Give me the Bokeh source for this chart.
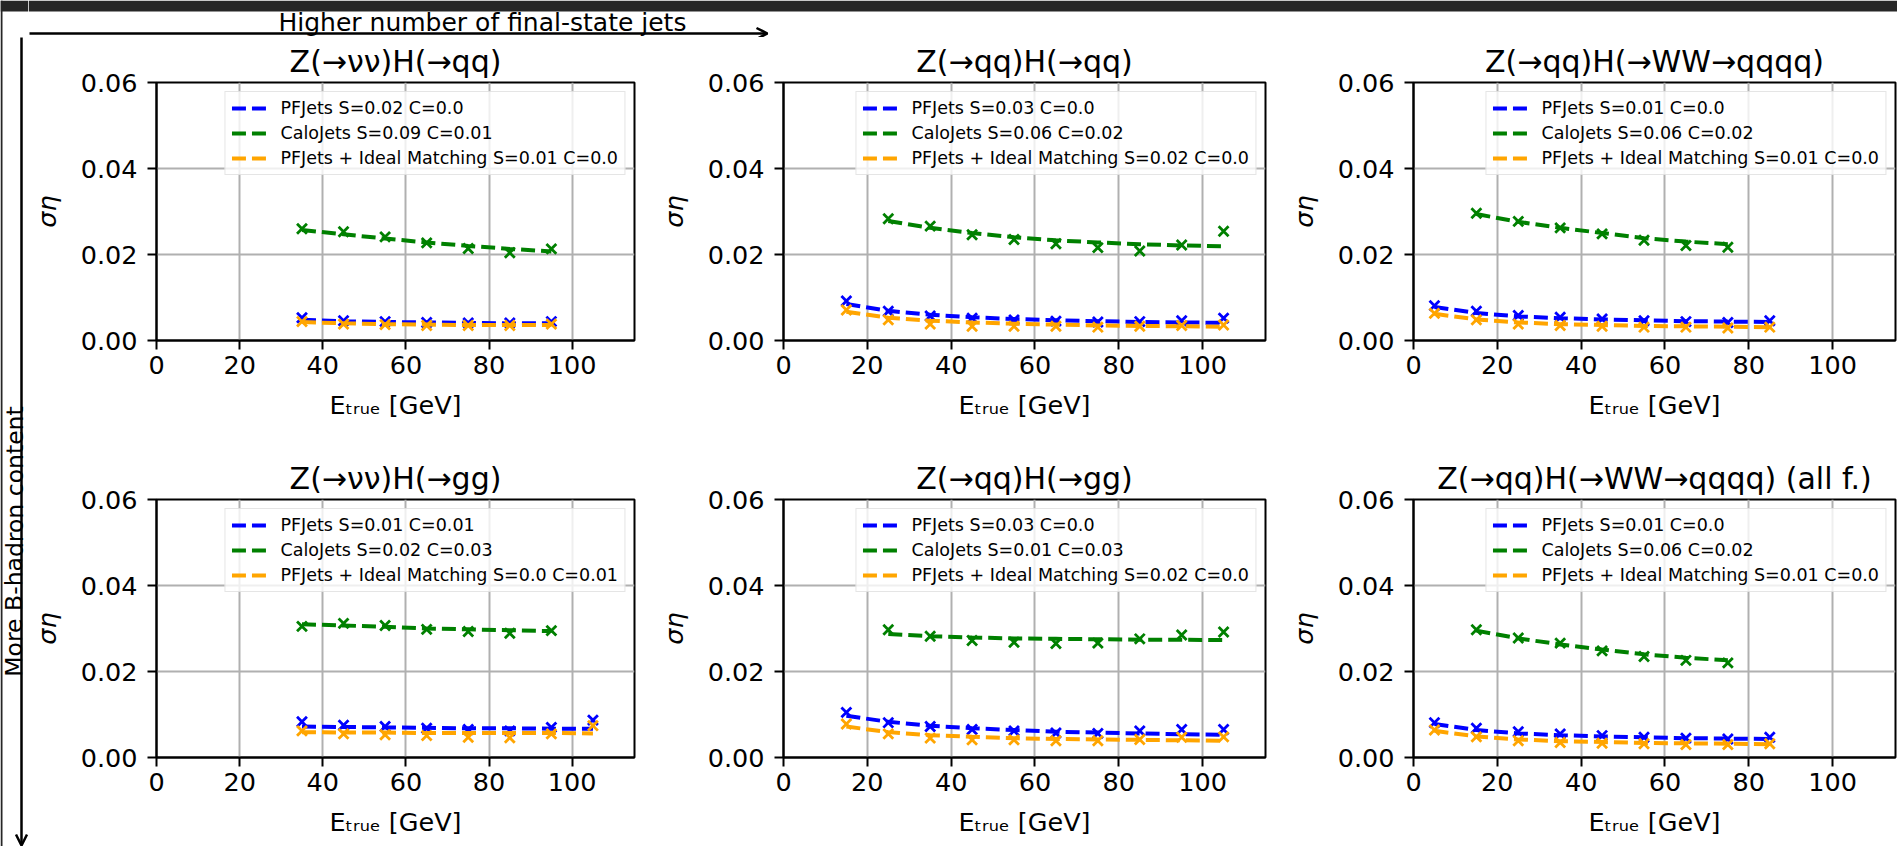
from bokeh.plotting import figure
from bokeh.layouts import row, column
from bokeh.models import (Range1d, FixedTicker, PrintfTickFormatter, Legend, LegendItem,
                          Arrow, OpenHead, Label)
from bokeh.embed import file_html
from bokeh.resources import INLINE

FONT = "DejaVu Sans"

# ---------------- data ----------------
top_note = "Higher number of final-state jets"
left_note = "More B-hadron content"
x_ticks = [0, 20, 40, 60, 80, 100]
y_ticks = [0.0, 0.02, 0.04, 0.06]
x_label = "Eₜᵣᵤₑ [GeV]"
y_label = "ση"

# Panel 1
p1_title = "Z(→νν)H(→qq)"
p1_labels = ["PFJets S=0.02 C=0.0", "CaloJets S=0.09 C=0.01", "PFJets + Ideal Matching S=0.01 C=0.0"]
p1_e_pf = [35, 45, 55, 65, 75, 85, 95]
p1_pf = [0.0053, 0.0046, 0.0044, 0.0042, 0.0041, 0.0041, 0.0044]
p1_pf_fit = [0.0048, 0.0045, 0.0043, 0.0042, 0.0041, 0.0040, 0.0040]
p1_e_calo = [35, 45, 55, 65, 75, 85, 95]
p1_calo = [0.0260, 0.0253, 0.0241, 0.0227, 0.0214, 0.0204, 0.0213]
p1_calo_fit = [0.0257, 0.0247, 0.0237, 0.0228, 0.0220, 0.0213, 0.0207]
p1_e_ideal = [35, 45, 55, 65, 75, 85, 95]
p1_ideal = [0.0044, 0.0038, 0.0037, 0.0035, 0.0035, 0.0035, 0.0038]
p1_ideal_fit = [0.0043, 0.0040, 0.0038, 0.0037, 0.0036, 0.0036, 0.0036]

# Panel 2
p2_title = "Z(→qq)H(→qq)"
p2_labels = ["PFJets S=0.03 C=0.0", "CaloJets S=0.06 C=0.02", "PFJets + Ideal Matching S=0.02 C=0.0"]
p2_e_pf = [15, 25, 35, 45, 55, 65, 75, 85, 95, 105]
p2_pf = [0.0092, 0.0068, 0.0057, 0.0052, 0.0048, 0.0045, 0.0043, 0.0044, 0.0046, 0.0052]
p2_pf_fit = [0.0085, 0.0069, 0.0060, 0.0054, 0.0050, 0.0047, 0.0045, 0.0043, 0.0042, 0.0041]
p2_e_calo = [25, 35, 45, 55, 65, 75, 85, 95, 105]
p2_calo = [0.0283, 0.0266, 0.0246, 0.0235, 0.0225, 0.0216, 0.0208, 0.0222, 0.0254]
p2_calo_fit = [0.0278, 0.0262, 0.0250, 0.0240, 0.0233, 0.0228, 0.0224, 0.0221, 0.0219]
p2_e_ideal = [15, 25, 35, 45, 55, 65, 75, 85, 95, 105]
p2_ideal = [0.0071, 0.0048, 0.0038, 0.0033, 0.0033, 0.0033, 0.0031, 0.0033, 0.0035, 0.0036]
p2_ideal_fit = [0.0067, 0.0053, 0.0046, 0.0042, 0.0039, 0.0037, 0.0035, 0.0034, 0.0033, 0.0032]

# Panel 3
p3_title = "Z(→qq)H(→WW→qqqq)"
p3_labels = ["PFJets S=0.01 C=0.0", "CaloJets S=0.06 C=0.02", "PFJets + Ideal Matching S=0.01 C=0.0"]
p3_e_pf = [5, 15, 25, 35, 45, 55, 65, 75, 85]
p3_pf = [0.0081, 0.0068, 0.0058, 0.0054, 0.0050, 0.0046, 0.0044, 0.0042, 0.0046]
p3_pf_fit = [0.0078, 0.0064, 0.0056, 0.0052, 0.0049, 0.0047, 0.0045, 0.0044, 0.0043]
p3_e_calo = [15, 25, 35, 45, 55, 65, 75]
p3_calo = [0.0296, 0.0277, 0.0262, 0.0248, 0.0233, 0.0221, 0.0217]
p3_calo_fit = [0.0294, 0.0276, 0.0262, 0.0250, 0.0238, 0.0230, 0.0224]
p3_e_ideal = [5, 15, 25, 35, 45, 55, 65, 75, 85]
p3_ideal = [0.0063, 0.0048, 0.0038, 0.0035, 0.0033, 0.0031, 0.0031, 0.0029, 0.0031]
p3_ideal_fit = [0.0062, 0.0049, 0.0042, 0.0038, 0.0036, 0.0034, 0.0033, 0.0032, 0.0031]

# Panel 4
p4_title = "Z(→νν)H(→gg)"
p4_labels = ["PFJets S=0.01 C=0.01", "CaloJets S=0.02 C=0.03", "PFJets + Ideal Matching S=0.0 C=0.01"]
p4_e_pf = [35, 45, 55, 65, 75, 85, 95, 105]
p4_pf = [0.0083, 0.0075, 0.0072, 0.0068, 0.0065, 0.0062, 0.0070, 0.0087]
p4_pf_fit = [0.0072, 0.0071, 0.0070, 0.0069, 0.0068, 0.0068, 0.0067, 0.0067]
p4_e_calo = [35, 45, 55, 65, 75, 85, 95]
p4_calo = [0.0305, 0.0312, 0.0307, 0.0298, 0.0293, 0.0289, 0.0295]
p4_calo_fit = [0.0310, 0.0307, 0.0304, 0.0300, 0.0298, 0.0296, 0.0294]
p4_e_ideal = [35, 45, 55, 65, 75, 85, 95, 105]
p4_ideal = [0.0062, 0.0055, 0.0053, 0.0051, 0.0047, 0.0046, 0.0055, 0.0074]
p4_ideal_fit = [0.0059, 0.0058, 0.0058, 0.0057, 0.0057, 0.0057, 0.0057, 0.0056]

# Panel 5
p5_title = "Z(→qq)H(→gg)"
p5_labels = ["PFJets S=0.03 C=0.0", "CaloJets S=0.01 C=0.03", "PFJets + Ideal Matching S=0.02 C=0.0"]
p5_e_pf = [15, 25, 35, 45, 55, 65, 75, 85, 95, 105]
p5_pf = [0.0105, 0.0081, 0.0072, 0.0065, 0.0062, 0.0057, 0.0056, 0.0062, 0.0065, 0.0065]
p5_pf_fit = [0.0097, 0.0083, 0.0074, 0.0068, 0.0064, 0.0060, 0.0058, 0.0056, 0.0054, 0.0053]
p5_e_calo = [25, 35, 45, 55, 65, 75, 85, 95, 105]
p5_calo = [0.0297, 0.0282, 0.0272, 0.0268, 0.0265, 0.0266, 0.0276, 0.0285, 0.0292]
p5_calo_fit = [0.0287, 0.0282, 0.0279, 0.0277, 0.0276, 0.0275, 0.0274, 0.0274, 0.0273]
p5_e_ideal = [15, 25, 35, 45, 55, 65, 75, 85, 95, 105]
p5_ideal = [0.0078, 0.0055, 0.0045, 0.0041, 0.0041, 0.0039, 0.0039, 0.0042, 0.0047, 0.0048]
p5_ideal_fit = [0.0072, 0.0059, 0.0052, 0.0048, 0.0045, 0.0043, 0.0042, 0.0041, 0.0040, 0.0039]

# Panel 6
p6_title = "Z(→qq)H(→WW→qqqq) (all f.)"
p6_labels = ["PFJets S=0.01 C=0.0", "CaloJets S=0.06 C=0.02", "PFJets + Ideal Matching S=0.01 C=0.0"]
p6_e_pf = [5, 15, 25, 35, 45, 55, 65, 75, 85]
p6_pf = [0.0081, 0.0068, 0.0060, 0.0055, 0.0051, 0.0047, 0.0045, 0.0043, 0.0047]
p6_pf_fit = [0.0078, 0.0064, 0.0056, 0.0052, 0.0049, 0.0047, 0.0045, 0.0044, 0.0043]
p6_e_calo = [15, 25, 35, 45, 55, 65, 75]
p6_calo = [0.0297, 0.0278, 0.0266, 0.0248, 0.0235, 0.0226, 0.0220]
p6_calo_fit = [0.0295, 0.0277, 0.0263, 0.0251, 0.0240, 0.0232, 0.0226]
p6_e_ideal = [5, 15, 25, 35, 45, 55, 65, 75, 85]
p6_ideal = [0.0064, 0.0048, 0.0039, 0.0035, 0.0033, 0.0032, 0.0030, 0.0030, 0.0032]
p6_ideal_fit = [0.0062, 0.0049, 0.0042, 0.0038, 0.0036, 0.0034, 0.0033, 0.0032, 0.0031]

COLORS = ["#0000ff", "#008000", "#ffa500"]

panels = [
    (p1_title, p1_labels, [(p1_e_pf, p1_pf, p1_pf_fit), (p1_e_calo, p1_calo, p1_calo_fit), (p1_e_ideal, p1_ideal, p1_ideal_fit)]),
    (p2_title, p2_labels, [(p2_e_pf, p2_pf, p2_pf_fit), (p2_e_calo, p2_calo, p2_calo_fit), (p2_e_ideal, p2_ideal, p2_ideal_fit)]),
    (p3_title, p3_labels, [(p3_e_pf, p3_pf, p3_pf_fit), (p3_e_calo, p3_calo, p3_calo_fit), (p3_e_ideal, p3_ideal, p3_ideal_fit)]),
    (p4_title, p4_labels, [(p4_e_pf, p4_pf, p4_pf_fit), (p4_e_calo, p4_calo, p4_calo_fit), (p4_e_ideal, p4_ideal, p4_ideal_fit)]),
    (p5_title, p5_labels, [(p5_e_pf, p5_pf, p5_pf_fit), (p5_e_calo, p5_calo, p5_calo_fit), (p5_e_ideal, p5_ideal, p5_ideal_fit)]),
    (p6_title, p6_labels, [(p6_e_pf, p6_pf, p6_pf_fit), (p6_e_calo, p6_calo, p6_calo_fit), (p6_e_ideal, p6_ideal, p6_ideal_fit)]),
]

# ---------------- layout geometry (page pixels) ----------------
PAGE_W, PAGE_H = 1897, 846
LEFT_W = 28
TOP_H = 37
FRAME_W = 482
FRAME_H = 260
col_borders = [(124, 6), (143, 5), (143, 2)]   # (left, right)
row_borders = [(43, 114), (43, 89)]            # (top, bottom)
DARK = "#262626"


def make_panel(idx):
    title, labels, series = panels[idx]
    r, c = divmod(idx, 3)
    bl, br = col_borders[c]
    bt, bb = row_borders[r]
    p = figure(width=bl + FRAME_W + br, height=bt + FRAME_H + bb,
               x_range=Range1d(0, 115), y_range=Range1d(0, 0.06),
               output_backend="svg", toolbar_location=None,
               min_border_left=bl, min_border_right=br,
               min_border_top=bt, min_border_bottom=bb,
               title=title)
    p.title.text_font = FONT
    p.title.text_font_size = "30px"
    p.title.text_font_style = "normal"
    p.title.text_color = "black"
    p.title.align = "center"
    p.title.standoff = 8

    p.background_fill_color = "white"
    p.border_fill_color = "white"
    p.outline_line_color = "black"
    p.outline_line_width = 2
    p.outline_line_alpha = 1.0

    p.xaxis.ticker = FixedTicker(ticks=x_ticks)
    p.yaxis.ticker = FixedTicker(ticks=y_ticks)
    p.yaxis.formatter = PrintfTickFormatter(format="%.2f")
    for ax in (p.xaxis, p.yaxis):
        ax.axis_line_color = "black"
        ax.axis_line_width = 2
        ax.major_tick_line_color = "black"
        ax.major_tick_line_width = 2
        ax.major_tick_out = 9
        ax.major_tick_in = 0
        ax.minor_tick_out = 0
        ax.minor_tick_in = 0
        ax.major_label_text_font = FONT
        ax.major_label_text_font_size = "25.5px"
        ax.major_label_text_color = "black"
        ax.axis_label_text_font = FONT
        ax.axis_label_text_font_size = "25.5px"
        ax.axis_label_text_font_style = "normal"
        ax.axis_label_text_color = "black"
    p.xaxis.major_label_standoff = 6
    p.yaxis.major_label_standoff = 10
    p.xaxis.axis_label = x_label
    p.xaxis.axis_label_standoff = 13
    p.yaxis.axis_label = y_label
    p.yaxis.axis_label_standoff = 16
    p.yaxis.axis_label_text_font_style = "italic"

    p.grid.grid_line_color = "#b0b0b0"
    p.grid.grid_line_width = 2

    items = []
    for (e, vals, fit), color, lab in zip(series, COLORS, labels):
        p.scatter(e, vals, marker="x", size=14, line_color=color, line_width=2.8)
        lr = p.line(e, fit, line_color=color, line_width=4, line_dash="14 6")
        items.append(LegendItem(label=lab, renderers=[lr]))
    leg = Legend(items=items, location="top_right", margin=9,
                 label_text_font=FONT, label_text_font_size="17.5px",
                 label_text_color="black",
                 glyph_width=35, glyph_height=20, label_height=20,
                 label_standoff=14, spacing=5, padding=6,
                 border_line_color="#cccccc", border_line_width=1.5,
                 background_fill_color="white", background_fill_alpha=0.8)
    p.add_layout(leg)
    return p


figs = [make_panel(i) for i in range(6)]

# ---------------- annotation strips (data coords = page pixels, y negated) ----------------
top_w = PAGE_W - LEFT_W
top_fig = figure(width=top_w, height=TOP_H,
                 x_range=Range1d(LEFT_W, PAGE_W), y_range=Range1d(-TOP_H, 0),
                 output_backend="svg", toolbar_location=None, min_border=0,
                 x_axis_location=None, y_axis_location=None)
top_fig.grid.visible = False
top_fig.outline_line_color = None
top_fig.background_fill_color = "white"
top_fig.quad(left=[LEFT_W], right=[PAGE_W], top=[0], bottom=[-11],
             fill_color=DARK, line_color=None)
top_fig.add_layout(Arrow(end=OpenHead(size=11, line_width=2.5, line_color="black"),
                         x_start=29, y_start=-33, x_end=767, y_end=-33,
                         line_width=2.5, line_color="black"))
top_fig.add_layout(Label(x=278, y=-22, text=top_note, text_font=FONT, text_font_size="25px",
                         text_align="left", text_baseline="middle", text_color="black"))

left_fig = figure(width=LEFT_W, height=PAGE_H,
                  x_range=Range1d(0, LEFT_W), y_range=Range1d(-PAGE_H, 0),
                  output_backend="svg", toolbar_location=None, min_border=0,
                  x_axis_location=None, y_axis_location=None)
left_fig.grid.visible = False
left_fig.outline_line_color = None
left_fig.background_fill_color = "white"
left_fig.quad(left=[0], right=[LEFT_W], top=[0], bottom=[-11],
              fill_color=DARK, line_color=None)
left_fig.quad(left=[0], right=[2], top=[0], bottom=[-PAGE_H],
              fill_color=DARK, line_color=None)
left_fig.add_layout(Arrow(end=OpenHead(size=11, line_width=2.5, line_color="black"),
                          x_start=21, y_start=-37, x_end=21, y_end=-845,
                          line_width=2.5, line_color="black"))
left_fig.add_layout(Label(x=14, y=-541, text=left_note, text_font=FONT, text_font_size="23.5px",
                          angle=1.5707963, text_align="center", text_baseline="middle",
                          text_color="black"))

grid = column(row(*figs[:3]), row(*figs[3:]))
layout = row(left_fig, column(top_fig, grid))

open("out.html", "w").write(file_html(layout, INLINE, "plot"))
